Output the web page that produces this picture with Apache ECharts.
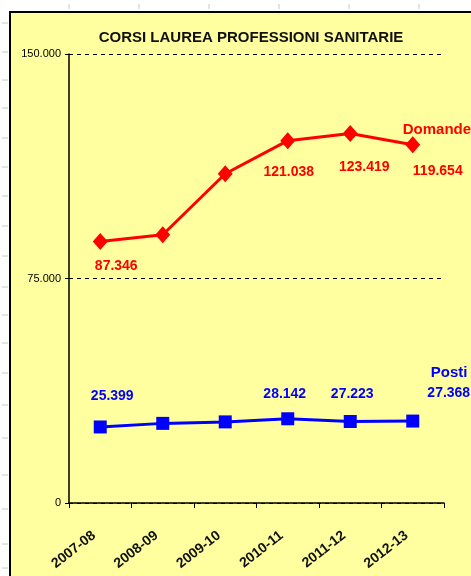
<!DOCTYPE html>
<html>
<head>
<meta charset="utf-8">
<script src="https://cdn.jsdelivr.net/npm/echarts@6/dist/echarts.min.js"></script>
<style>
  html, body { margin: 0; padding: 0; background: #fff; overflow: hidden; }
  #panel { position: absolute; left: 9px; top: 11px; width: 480px; height: 600px; background: #FFFFA0; border: 2px solid #000; box-sizing: border-box; }
  #main { position: absolute; left: 0; top: 0; width: 471px; height: 576px; }
</style>
</head>
<body>
<div id="panel"></div>
<div id="main"></div>
<script>
// dati
var anni = ['2007-08', '2008-09', '2009-10', '2010-11', '2011-12', '2012-13'];
var domande = [87346, 89600, 110000, 121038, 123419, 119654];
var posti = [25399, 26600, 27100, 28142, 27223, 27368];
var yTicks = [0, 75000, 150000];

// quali punti hanno l'etichetta e di quanto spostarla
var domandeLabel = [[16, 3], null, null, [1, 10], [14, 12], [25, 5]];
var postiLabel = [[12, -11], null, null, [-3, -5], [2, -8], [36, -8]];

function fmt(v) {
    return String(v).replace(/\B(?=(\d{3})+(?!\d))/g, '.');
}

function withLabels(values, offsets, pos, color) {
    return values.map(function (v, i) {
        var o = offsets[i];
        if (!o) return { value: v };
        return {
            value: v,
            label: {
                show: true, position: pos, distance: 6, offset: o,
                color: color, fontWeight: 'bold', fontSize: 14,
                fontFamily: 'Liberation Sans',
                formatter: function (p) { return fmt(p.value); }
            }
        };
    });
}

// trattini grigi del foglio di calcolo
var rowMarks = [23, 52, 80, 108, 138, 167, 196, 226, 256, 287, 315, 343, 373, 405, 438, 475, 509, 544, 568];
var colMarks = [69, 139, 209, 279, 349, 419];
var marks = [];
rowMarks.forEach(function (y) {
    marks.push({ type: 'line', shape: { x1: 2, y1: y, x2: 8, y2: y }, style: { stroke: '#c8c8c8', lineWidth: 1 } });
});
colMarks.forEach(function (x) {
    marks.push({ type: 'line', shape: { x1: x, y1: 4, x2: x, y2: 9 }, style: { stroke: '#c8c8c8', lineWidth: 1 } });
});

var chart = echarts.init(document.getElementById('main'));
chart.setOption({
    animation: false,
    textStyle: { fontFamily: 'Liberation Sans' },
    title: {
        text: 'CORSI LAUREA PROFESSIONI SANITARIE',
        left: 246, top: 25, textAlign: 'center',
        textStyle: { fontSize: 15, fontWeight: 'bold', color: '#111' }
    },
    graphic: marks,
    grid: { left: 69, right: 27, top: 54, bottom: 73 },
    xAxis: {
        type: 'category',
        data: anni,
        boundaryGap: true,
        axisLine: { lineStyle: { color: '#000', width: 1.5 } },
        axisTick: { show: true, interval: 0, length: 5, lineStyle: { color: '#000' } },
        axisLabel: {
            rotate: 38, interval: 0, margin: 26, padding: [0, 8, 0, 0],
            color: '#111', fontWeight: 'bold', fontSize: 14
        }
    },
    yAxis: {
        type: 'value',
        min: yTicks[0], max: yTicks[2], interval: yTicks[1],
        axisLine: { show: true, lineStyle: { color: '#000', width: 1.5 } },
        axisTick: { show: true, length: 4, lineStyle: { color: '#000' } },
        axisLabel: { color: '#000', fontSize: 11, margin: 8, formatter: fmt },
        splitLine: { show: true, lineStyle: { color: '#000', type: [4, 4], width: 1 } }
    },
    series: [{
        name: 'Domande',
        type: 'line',
        data: withLabels(domande, domandeLabel, 'bottom', '#FF0000'),
        color: '#FF0000',
        lineStyle: { width: 3 },
        symbol: 'diamond', symbolSize: [15, 17],
        endLabel: {
            show: true, formatter: '{a}', color: '#FF0000', fontWeight: 'bold', fontSize: 15,
            offset: [-18, -15]
        }
    }, {
        name: 'Posti',
        type: 'line',
        data: withLabels(posti, postiLabel, 'top', '#0000FF'),
        color: '#0000FF',
        lineStyle: { width: 3 },
        symbol: 'rect', symbolSize: 13,
        endLabel: {
            show: true, formatter: '{a}', color: '#0000FF', fontWeight: 'bold', fontSize: 15,
            offset: [10, -48]
        }
    }]
});
</script>
</body>
</html>
